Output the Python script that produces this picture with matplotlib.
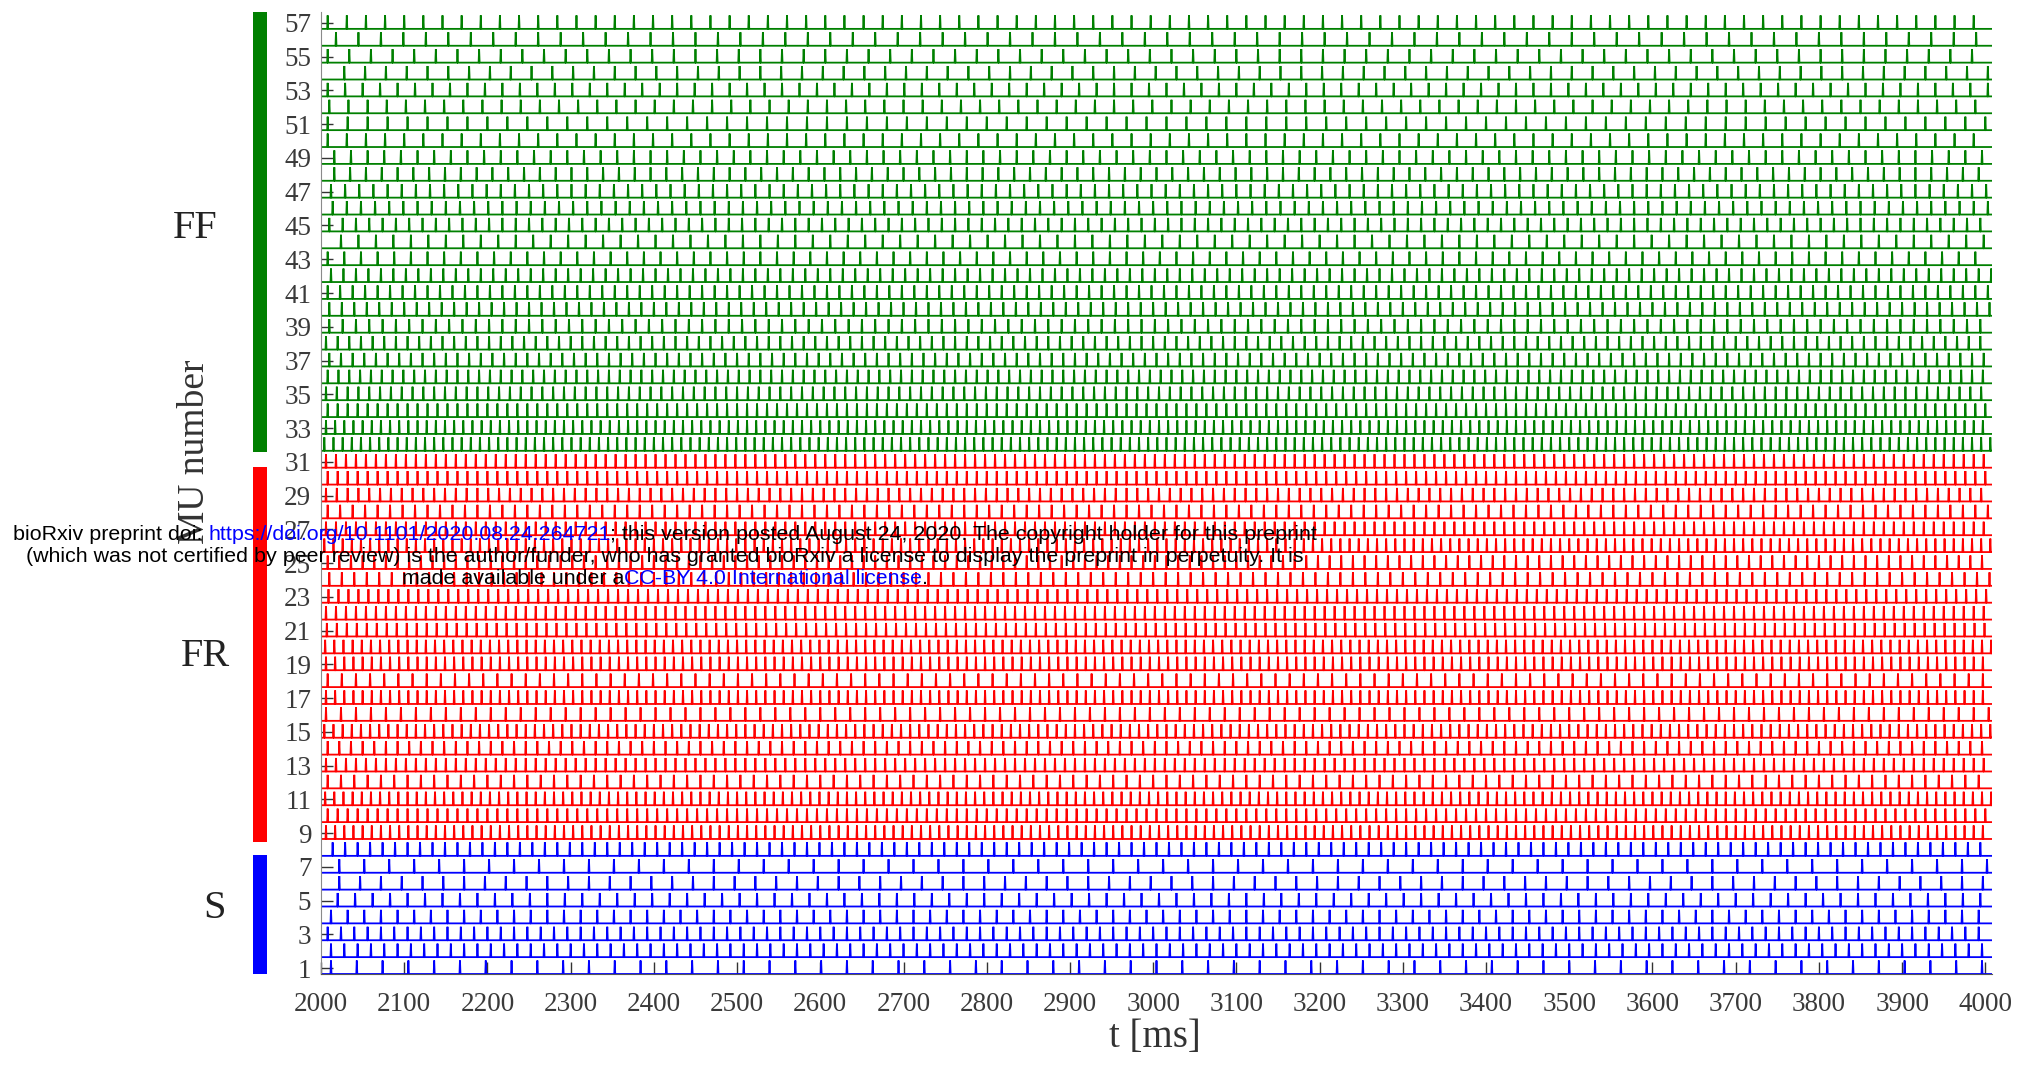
import numpy as np
import matplotlib
matplotlib.use("Agg")
import matplotlib.pyplot as plt
from matplotlib.transforms import blended_transform_factory

# ---------------- data ----------------
T_START, T_END = 2000, 4008
# mean inter-spike interval (ms) per motor unit
S_units = list(range(1, 9))
S_isi = [31, 16, 16, 20, 21, 25, 30, 15]
S_onset = [12, 12, 8, 12, 20, 22, 22, 14]

FR_units = list(range(9, 32))
FR_isi = [11, 12, 11, 16, 12, 14, 11, 18, 11, 17, 11, 11, 12, 12, 12, 15, 14, 11, 12, 15, 13, 12, 12]
FR_onset = [6, 8, 5, 8, 6, 8, 4, 6, 6, 8, 6, 5, 7, 6, 9, 10, 8, 4, 6, 8, 6, 8, 6]

FF_units = list(range(32, 58))
FF_isi = [11, 11, 12, 13, 13, 14, 14, 16, 15, 15, 15, 20, 21, 16, 17, 17, 19, 20, 23, 24, 23, 21, 25, 26, 27, 23]
FF_onset = [4, 6, 8, 6, 8, 10, 6, 10, 10, 8, 12, 8, 24, 10, 14, 12, 16, 16, 8, 8, 10, 8, 28, 8, 18, 8]

groups = ["S", "FR", "FF"]
group_colors = ["#0000ff", "#ff0000", "#008000"]
x_ticks = list(range(2000, 4001, 100))
y_ticks = list(range(1, 58, 2))

# ---------------- figure ----------------
W, H = 2035, 1071
fig = plt.figure(figsize=(W / 100, H / 100), dpi=100)
ax = fig.add_axes([321 / W, (H - 974) / H, (1992 - 321) / W, (974 - 12) / H])

serif = ["Liberation Serif", "DejaVu Serif"]
BASE_OFF = 0.35
SPIKE_H = 0.8
HALF_W = 0.6


def draw_unit(u, isi, onset, color):
    b = u - BASE_OFF
    times = np.arange(T_START + onset, T_END, isi)
    xs = [T_START]
    ys = [b]
    for t in times:
        xs += [t - HALF_W, t, t + HALF_W]
        ys += [b, b + SPIKE_H, b]
    xs.append(T_END)
    ys.append(b)
    ax.plot(xs, ys, color=color, lw=1.3, solid_joinstyle="miter")


for units, isis, ons, col in [(S_units, S_isi, S_onset, group_colors[0]),
                              (FR_units, FR_isi, FR_onset, group_colors[1]),
                              (FF_units, FF_isi, FF_onset, group_colors[2])]:
    for u, i, o in zip(units, isis, ons):
        draw_unit(u, i, o, col)

ax.set_xlim(T_START, T_END)
ax.set_ylim(0.65, 57.65)
ax.set_xticks(x_ticks)
ax.set_xticklabels([str(v) for v in x_ticks])
ax.set_yticks(y_ticks)
ax.set_yticklabels([str(v) for v in y_ticks])
for lab in ax.get_xticklabels() + ax.get_yticklabels():
    lab.set_family(serif)
ax.tick_params(direction="in", length=8.6, width=1.0, color="#333333",
               labelsize=19.5, labelcolor="#3a3a3a")
ax.tick_params(axis="x", pad=13)
ax.tick_params(axis="y", pad=7)
for s in ["top", "right"]:
    ax.spines[s].set_visible(False)
ax.spines["left"].set_color("#8a8a8a")
ax.spines["bottom"].set_color("#555555")

# x label
fig.text(1155 / W, 1 - 1038 / H, "t [ms]", ha="center", va="center",
         fontsize=28, family=serif, color="#333333")
# y label
fig.text(195 / W, 1 - 452 / H, "MU number", ha="center", va="center",
         rotation=90, fontsize=27, family=serif, color="#333333")

# group bars and labels
trans = blended_transform_factory(fig.transFigure, ax.transData)
bar_extents = [(0.65, 7.7), (8.5, 30.7), (31.6, 57.65)]
label_pos = [(214, 908), (205, 657), (195, 228)]
for g, col, (y0, y1), (lx, ly) in zip(groups, group_colors, bar_extents, label_pos):
    fig.patches.append(plt.Rectangle((253 / W, y0), 14 / W, y1 - y0, transform=trans,
                                     facecolor=col, edgecolor="none"))
    fig.text(lx / W, 1 - ly / H, g, ha="center", va="center", fontsize=29,
             family=serif, color="#222222")

# bioRxiv watermark
wm_lines = [
    [("bioRxiv preprint doi: ", "black"), ("https://doi.org/10.1101/2020.08.24.264721", "blue"),
     ("; this version posted August 24, 2020. The copyright holder for this preprint", "black")],
    [("(which was not certified by peer review) is the author/funder, who has granted bioRxiv a license to display the preprint in perpetuity. It is", "black")],
    [("made available under a", "black"), ("CC-BY 4.0 International license", "blue"), (".", "black")],
]
wm_y = [535, 556, 578]
wm_cx = 665
renderer = fig.canvas.get_renderer()
for line, yy in zip(wm_lines, wm_y):
    texts = []
    widths = []
    for s, c in line:
        t = fig.text(0, 1 - yy / H, s, ha="left", va="center", fontsize=15.4,
                     family=["Liberation Sans", "DejaVu Sans"], color=c)
        texts.append(t)
        widths.append(t.get_window_extent(renderer).width)
    x = wm_cx - sum(widths) / 2
    for t, w in zip(texts, widths):
        t.set_x(x / W)
        x += w

fig.savefig("out.png", dpi=100, facecolor="white")
